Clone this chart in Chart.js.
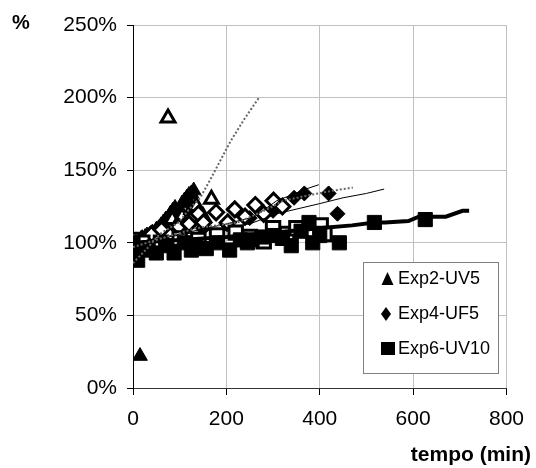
<!DOCTYPE html>
<html><head><meta charset="utf-8">
<script src="https://cdn.jsdelivr.net/npm/chart.js@4/dist/chart.umd.min.js"></script>
<style>html,body{margin:0;padding:0;background:#fff;}canvas{display:block;}</style>
</head><body>
<canvas id="c" width="536" height="468"></canvas>
<script>
const xTicks = [0, 200, 400, 600, 800];
const yTicks = [0, 50, 100, 150, 200, 250];
const seriesNames = ['Exp2-UV5', 'Exp4-UF5', 'Exp6-UV10'];
const xTitle = 'tempo (min)';
const yTitle = '%';

const exp2FilledX = [0, 4, 8, 12, 15, 18, 22, 26, 30, 34, 38, 42, 46, 50, 55, 60, 65, 70, 75, 80, 85, 90, 95, 100, 105, 110, 115, 120, 125, 130];
const exp2FilledY = [100, 98, 97, 101, 22, 103, 102, 104, 105, 103, 106, 107, 105, 109, 110, 112, 114, 116, 117, 120, 122, 124, 121, 123, 127, 129, 131, 133, 134, 136];
const exp2OpenX = [5, 20, 35, 50, 65, 75, 84, 95, 105, 116, 126, 136, 150, 168];
const exp2OpenY = [99, 102, 104, 107, 110, 186, 116, 112, 118, 115, 123, 125, 118, 130];
const exp4FilledX = [0, 15, 30, 60, 100, 150, 200, 250, 300, 345, 367, 419, 438];
const exp4FilledY = [100, 101, 103, 104, 107, 110, 113, 117, 122, 131, 134, 134, 120];
const exp4OpenX = [10, 40, 61, 80, 98, 120, 140, 151, 178, 203, 218, 240, 262, 280, 301, 320];
const exp4OpenY = [100, 106, 109, 105, 111, 113, 120, 114, 121, 114, 123, 118, 126, 120, 129, 125];
const exp6FilledX = [0, 5, 10, 30, 50, 70, 88, 110, 125, 134, 157, 180, 207, 230, 245, 255, 276, 301, 320, 339, 360, 377, 385, 400, 442, 517, 626];
const exp6FilledY = [100, 92, 88, 95, 93, 98, 93, 100, 95, 97, 96, 100, 95, 102, 100, 102, 104, 105, 103, 98, 108, 114, 100, 105, 100, 114, 116];
const exp6OpenX = [0, 20, 60, 100, 140, 180, 220, 250, 280, 300, 330, 350, 402, 410];
const exp6OpenY = [102, 100, 100, 103, 102, 105, 107, 104, 101, 110, 106, 110, 112, 106];

const exp2TrendX = [0, 30, 57, 98, 120, 144, 168, 209, 240, 270];
const exp2TrendY = [86, 96, 106, 114, 123, 131, 145, 170, 186, 200];
const exp4TrendX = [0, 60, 134, 224, 287, 322, 380, 430, 471];
const exp4TrendY = [97, 103, 110, 114, 123, 129, 133, 136, 138];
const exp4LineAX = [0, 100, 200, 260, 308, 340, 370, 398];
const exp4LineAY = [100, 106, 113, 118, 129, 133, 137, 140];
const exp4LineBX = [0, 150, 250, 308, 400, 450, 500, 538];
const exp4LineBY = [100, 108, 113, 120, 127, 131, 134, 137];
const exp6LineX = [0, 100, 200, 300, 398, 469, 517, 540, 590, 612, 670, 706, 720];
const exp6LineY = [100, 102, 104, 107, 110, 112, 114, 114, 115, 118, 118, 122, 122];

const zip = (xs, ys) => xs.map((x, i) => ({x: x, y: ys[i]}));

function markers(label, xs, ys, style, r, filled, bw, order) {
  return {
    label: label, data: zip(xs, ys), showLine: false,
    pointStyle: style, pointRadius: r, pointHoverRadius: r,
    pointBackgroundColor: filled ? '#000' : '#fff',
    pointBorderColor: '#000', pointBorderWidth: bw,
    order: order
  };
}
function line(label, xs, ys, color, width, dash, order) {
  return {
    label: label, data: zip(xs, ys), showLine: true, pointRadius: 0,
    borderColor: color, borderWidth: width, borderDash: dash, fill: false,
    tension: 0, order: order
  };
}

const legendPlugin = {
  id: 'customLegend',
  afterDraw(chart) {
    const ctx = chart.ctx;
    ctx.save();
    ctx.fillStyle = '#000';
    ctx.font = 'bold 20px "Liberation Sans", Arial, sans-serif';
    ctx.textBaseline = 'middle';
    ctx.textAlign = 'left';
    ctx.fillText(yTitle, 12, 23);
    ctx.font = 'bold 21px "Liberation Sans", Arial, sans-serif';
    ctx.textAlign = 'right';
    ctx.fillText(xTitle, 531, 455);
    ctx.fillStyle = '#fff';
    ctx.fillRect(363.5, 262.5, 135, 111);
    ctx.strokeStyle = '#808080';
    ctx.lineWidth = 1;
    ctx.strokeRect(363.5, 262.5, 135, 111);
    ctx.fillStyle = '#000';
    ctx.beginPath();
    ctx.moveTo(387.5, 272); ctx.lineTo(393.5, 285); ctx.lineTo(381.5, 285); ctx.closePath(); ctx.fill();
    ctx.beginPath();
    ctx.moveTo(386, 307); ctx.lineTo(391, 314); ctx.lineTo(386, 321); ctx.lineTo(381, 314); ctx.closePath(); ctx.fill();
    ctx.fillRect(381, 342, 14, 13);
    ctx.font = '18px "Liberation Sans", Arial, sans-serif';
    ctx.textAlign = 'left';
    ctx.textBaseline = 'middle';
    ctx.fillText(seriesNames[0], 398, 279);
    ctx.fillText(seriesNames[1], 398, 314);
    ctx.fillText(seriesNames[2], 398, 349);
    ctx.restore();
  }
};

new Chart(document.getElementById('c'), {
  type: 'scatter',
  data: {
    datasets: [
      markers(seriesNames[0], exp2FilledX, exp2FilledY, 'triangle', 8.5, true, 1, 9),
      markers('Exp2 open', exp2OpenX, exp2OpenY, 'triangle', 8, false, 3, 8),
      markers(seriesNames[1], exp4FilledX, exp4FilledY, 'rectRot', 7.5, true, 1, 7),
      markers('Exp4 open', exp4OpenX, exp4OpenY, 'rectRot', 7.5, false, 3, 6),
      markers('Exp6 open', exp6OpenX, exp6OpenY, 'rect', 9.5, false, 3, 5),
      markers(seriesNames[2], exp6FilledX, exp6FilledY, 'rect', 10, true, 1, 4),
      line('Exp4 line B', exp4LineBX, exp4LineBY, '#000', 1, [], 3),
      line('Exp4 line A', exp4LineAX, exp4LineAY, '#000', 1, [], 3),
      line('Exp6 line', exp6LineX, exp6LineY, '#000', 4, [], 2),
      line('Exp4 trend', exp4TrendX, exp4TrendY, '#666', 2, [2, 2], 1),
      line('Exp2 trend', exp2TrendX, exp2TrendY, '#666', 2, [2, 2], 0)
    ]
  },
  options: {
    responsive: false,
    animation: false,
    devicePixelRatio: 1,
    layout: {padding: {top: 25, right: 22, left: 0, bottom: 0}},
    plugins: {legend: {display: false}, tooltip: {enabled: false}},
    scales: {
      x: {
        type: 'linear', min: 0, max: 800,
        afterFit(s) { s.height = 80; },
        afterBuildTicks(s) { s.ticks = xTicks.map(v => ({value: v})); },
        ticks: {color: '#000', font: {family: '"Liberation Sans", Arial, sans-serif', size: 21}, padding: 12, maxRotation: 0},
        grid: {color: '#c0c0c0', tickColor: '#000', tickLength: 7, drawTicks: true},
        border: {color: '#333', width: 1}
      },
      y: {
        type: 'linear', min: 0, max: 250,
        afterFit(s) { s.width = 133; },
        afterBuildTicks(s) { s.ticks = yTicks.map(v => ({value: v})); },
        ticks: {color: '#000', font: {family: '"Liberation Sans", Arial, sans-serif', size: 21}, padding: 10, callback: v => v + '%'},
        grid: {color: '#c0c0c0', tickColor: '#000', tickLength: 6, drawTicks: true},
        border: {color: '#000', width: 1}
      }
    }
  },
  plugins: [legendPlugin]
});
</script>
</body></html>
